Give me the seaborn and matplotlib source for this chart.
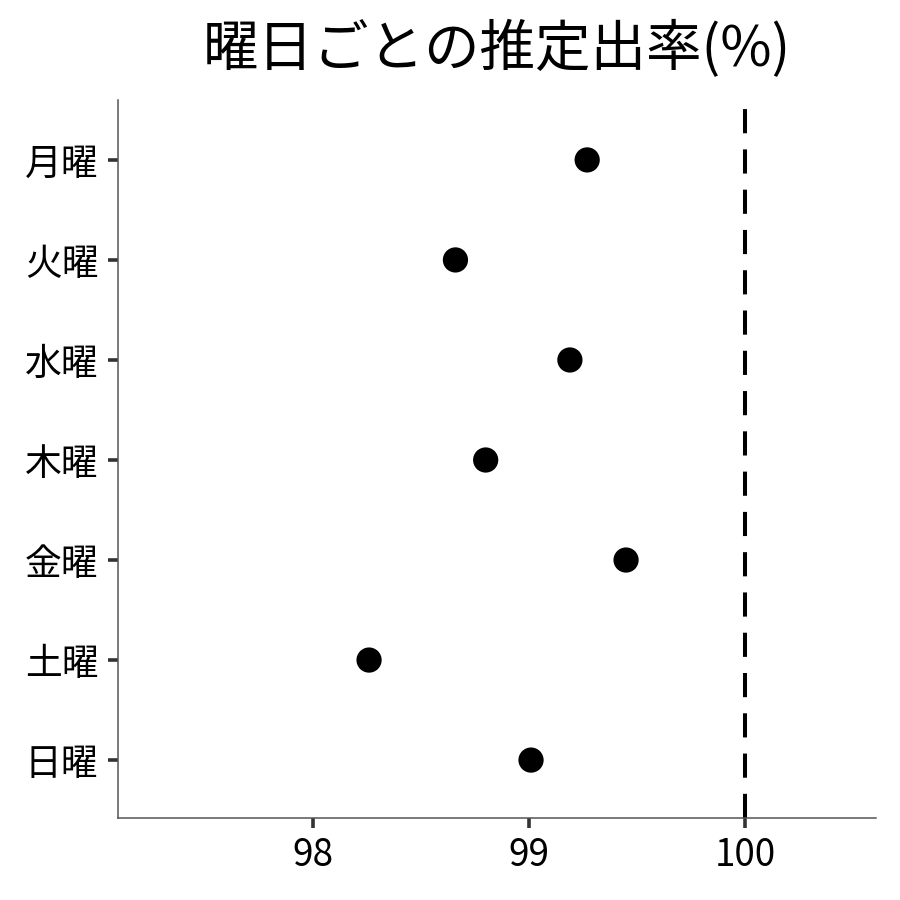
import numpy as np
import pandas as pd
import matplotlib
matplotlib.use("Agg")
import matplotlib.pyplot as plt
import seaborn as sns

# 曜日ごとの推定出率
曜日 = ["月曜", "火曜", "水曜", "木曜", "金曜", "土曜", "日曜"]
出率 = [99.27, 98.66, 99.19, 98.80, 99.45, 98.26, 99.01]
基準線 = 100
x_ticks = [98, 99, 100]

df = pd.DataFrame({"曜日": 曜日, "出率": 出率})

sns.set_theme(style="ticks")
plt.rcParams['font.family'] = ['Noto Sans CJK JP', 'DejaVu Sans']

fig = plt.figure(figsize=(9, 9), dpi=100)
ax = fig.add_axes([0.131, 0.091, 0.842, 0.798])

sns.scatterplot(data=df, x="出率", y="曜日", ax=ax, color="black", s=330,
                edgecolor="none", zorder=3)
ax.axvline(基準線, color="black", linestyle=(0, (6, 4)), linewidth=2.9, zorder=2)

ax.set_xlim(97.097, 100.606)
ax.set_ylim(6.58, -0.6)
ax.set_xticks(x_ticks)
ax.set_xticklabels([str(t) for t in x_ticks])
ax.set_xlabel("")
ax.set_ylabel("")
ax.set_title("曜日ごとの推定出率(%)", fontsize=40, pad=24, color="black")

ax.tick_params(axis="both", labelsize=26.5, colors="#333333", length=7, width=2.6,
               labelcolor="black")
ax.tick_params(axis="x", pad=6)
ax.tick_params(axis="y", pad=7)
for side in ["top", "right"]:
    ax.spines[side].set_visible(False)
for side in ["left", "bottom"]:
    ax.spines[side].set_color("#555555")
    ax.spines[side].set_linewidth(1.1)

fig.savefig("out.png", dpi=100)
